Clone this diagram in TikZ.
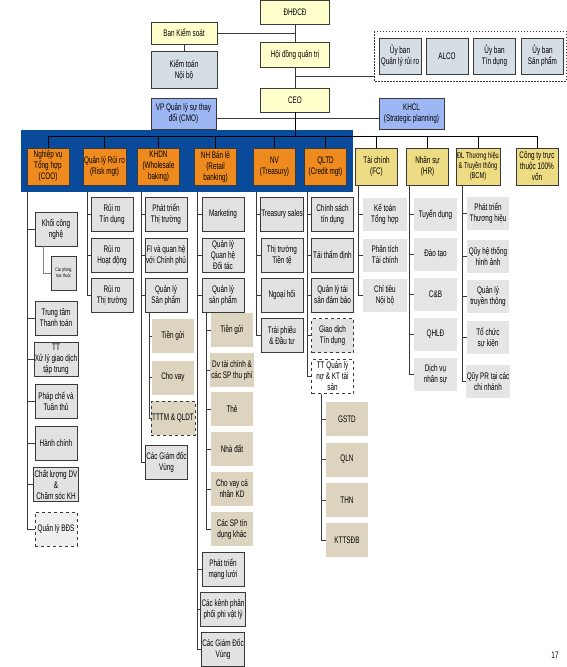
\documentclass[tikz,border=0pt]{standalone}
\usepackage{fontspec}
\setmainfont[FakeStretch=0.67]{Liberation Sans}

\definecolor{paleyellow}{HTML}{FFFFCC}
\definecolor{greyblue}{HTML}{D5DDE5}
\definecolor{lightblue}{HTML}{9DB7F4}
\definecolor{bandblue}{HTML}{0A4A9A}
\definecolor{deptorange}{HTML}{EF8B1E}
\definecolor{deptyellow}{HTML}{EEDC84}
\definecolor{unitgrey}{HTML}{E2E2E2}
\definecolor{softgrey}{HTML}{E5E5E5}
\definecolor{prodtan}{HTML}{DCD4BF}
\definecolor{linegrey}{HTML}{3A3A3A}

\tikzset{
  box/.style={align=center, inner sep=1pt, minimum width=42pt, minimum height=34pt,
    font=\fontsize{9.5}{11}\selectfont},
  topbox/.style={box, draw=linegrey, line width=0.6pt, fill=paleyellow},
  greybox/.style={box, draw=linegrey, line width=0.6pt, fill=greyblue},
  bluebox/.style={box, draw=linegrey, line width=0.6pt, fill=lightblue},
  deptbox/.style={box, draw=linegrey, line width=0.6pt, fill=deptorange, minimum height=37pt},
  supportbox/.style={box, draw=linegrey, line width=0.6pt, fill=deptyellow, minimum height=37pt},
  unitbox/.style={box, draw=linegrey, line width=0.8pt, fill=unitgrey},
  softbox/.style={box, fill=softgrey, minimum width=44pt, minimum height=33pt},
  tanbox/.style={box, fill=prodtan},
  conn/.style={draw=linegrey, line width=0.8pt},
}

\begin{document}
\begin{tikzpicture}[x=1pt,y=-1pt]
  \useasboundingbox (0,0) rectangle (567,667);

  % Board level
  \node[topbox, minimum width=69pt, minimum height=24pt] (dhcd) at (295,12) {ĐHĐCĐ};
  \node[topbox, minimum width=66pt, minimum height=22pt] (bks) at (184,33) {Ban Kiểm soát};
  \node[greybox, minimum width=66pt, minimum height=37pt] (ktnb) at (184,69.5) {Kiểm toán\\Nội bộ};
  \node[topbox, minimum width=69pt, minimum height=25pt] (hdqt) at (295,54.5) {Hội đồng quản trị};
  \node[topbox, minimum width=69pt, minimum height=24pt] (ceo) at (295,100) {CEO};

  % Committees
  \draw[linegrey, line width=0.7pt, dash pattern=on 1.5pt off 1.5pt] (374,31) rectangle (566,81);
  \node[greybox, minimum height=36pt] (ubrr) at (400,56) {Ủy ban\\Quản lý rủi ro};
  \node[greybox, minimum height=36pt] (alco) at (447,56) {ALCO};
  \node[greybox, minimum height=36pt] (ubtd) at (494.5,56) {Ủy ban\\Tín dụng};
  \node[greybox, minimum height=36pt] (ubsp) at (542.5,56) {Ủy ban\\Sản phẩm};

  % Staff offices
  \node[bluebox, minimum width=65pt, minimum height=31pt] (cmo) at (183.5,113.5) {VP Quản lý sự thay\\đổi (CMO)};
  \node[bluebox, minimum width=65pt, minimum height=31pt] (khcl) at (411.5,113.5) {KHCL\\(Strategic planning)};

  % Business divisions band
  \fill[bandblue] (21,130) rectangle (353,192);
  \node[deptbox] (coo) at (48,166.5) {Nghiệp vụ\\Tổng hợp\\(COO)};
  \node[deptbox] (risk) at (104.5,166.5) {Quản lý Rủi ro\\(Risk mgt)};
  \node[deptbox] (khdn) at (158.5,166.5) {KHDN\\(Wholesale\\baking)};
  \node[deptbox] (retail) at (215.5,166.5) {NH Bán lẻ\\(Retail\\banking)};
  \node[deptbox] (nv) at (274.5,166.5) {NV\\(Treasury)};
  \node[deptbox] (qltd) at (325.5,166.5) {QLTD\\(Credit mgt)};

  % Support divisions
  \node[supportbox] (fc) at (376.5,166.5) {Tài chính\\(FC)};
  \node[supportbox] (hr) at (427.5,166.5) {Nhân sự\\(HR)};
  \node[supportbox, font=\fontsize{8.5}{10}\selectfont] (bcm) at (478,166.5) {ĐL Thương hiệu\\\& Truyền thông\\(BCM)};
  \node[supportbox] (cty) at (537,166.5) {Công ty trực\\thuộc 100\%\\vốn};

  % COO units
  \node[unitbox] (kcn) at (56,229) {Khối công\\nghệ};
  \node[unitbox, minimum width=25pt, font=\fontsize{5}{6.5}\selectfont] (cptt) at (63.5,273) {Các phòng\\trực thuộc};
  \node[unitbox] (tttt) at (56,318) {Trung tâm\\Thanh toán};
  \node[unitbox] (xlgd) at (56,359.5) {TT\\Xử lý giao dịch\\tập trung};
  \node[unitbox] (pcht) at (56,401) {Pháp chế và\\Tuân thủ};
  \node[unitbox] (hc) at (56,443) {Hành chính};
  \node[unitbox] (cldv) at (56,484.5) {Chất lượng DV\\\&\\Chăm sóc KH};
  \node[unitbox, fill=softgrey!60, dashed] (bds) at (56,529) {Quản lý BĐS};

  % Risk units
  \node[unitbox] (rrtd) at (112,214.5) {Rủi ro\\Tín dụng};
  \node[unitbox] (rrhd) at (112,255) {Rủi ro\\Hoạt động};
  \node[unitbox] (rrtt) at (112,295) {Rủi ro\\Thị trường};

  % Wholesale units
  \node[unitbox] (pttt) at (166,214.5) {Phát triển\\Thị trường};
  \node[unitbox] (fi) at (166,255) {FI và quan hệ\\với Chính phủ};
  \node[unitbox] (qlsp) at (166,295) {Quản lý\\Sản phẩm};
  \node[tanbox] (tgdn) at (173,336) {Tiền gửi};
  \node[tanbox] (cvdn) at (173,377.5) {Cho vay};
  \node[tanbox, draw=linegrey, dashed, line width=0.7pt] (tttm) at (173,418) {TTTM \& QLDT};
  \node[unitbox] (gdvdn) at (166.5,462.5) {Các Giám đốc\\Vùng};

  % Retail units
  \node[unitbox] (mkt) at (223,214.5) {Marketing};
  \node[unitbox] (qlqh) at (223,255) {Quản lý\\Quan hệ\\Đối tác};
  \node[unitbox] (qlspbl) at (223,295) {Quản lý\\sản phẩm};
  \node[tanbox] (tgbl) at (232,330) {Tiền gửi};
  \node[tanbox] (dvtc) at (232,370) {Dv tài chính \&\\các SP thu phí};
  \node[tanbox] (the) at (232,409) {Thẻ};
  \node[tanbox] (nhadat) at (232,449) {Nhà đất};
  \node[tanbox] (cvcn) at (232,489) {Cho vay cá\\nhân KD};
  \node[tanbox] (spk) at (232,529) {Các SP tín\\dụng khác};
  \node[unitbox] (ptml) at (223,569) {Phát triển\\mạng lưới};
  \node[unitbox] (kpp) at (223,609) {Các kênh phân\\phối phi vật lý};
  \node[unitbox] (gdvbl) at (223,649.5) {Các Giám Đốc\\Vùng};

  % Treasury units
  \node[unitbox] (tsales) at (282,214.5) {Treasury sales};
  \node[unitbox] (tttiente) at (282,255) {Thị trường\\Tiền tệ};
  \node[unitbox] (nh) at (282,295) {Ngoại hối};
  \node[unitbox] (tpdt) at (282,335.5) {Trái phiếu\\\& Đầu tư};

  % Credit units
  \node[unitbox] (cstd) at (332.5,214.5) {Chính sách\\tín dụng};
  \node[unitbox] (ttd) at (332.5,255) {Tái thẩm định};
  \node[unitbox] (qltsdb) at (332.5,295) {Quản lý tài\\sản đảm bảo};
  \node[unitbox, dashed] (gdtd) at (332.5,335.5) {Giao dịch\\Tín dụng};
  \node[unitbox, fill=white, dashed] (ttqln) at (332.5,376.5) {TT Quản lý\\nợ \& KT tài\\sản};
  \node[tanbox] (gstd) at (347,419) {GSTD};
  \node[tanbox] (qln) at (347,459.5) {QLN};
  \node[tanbox] (thn) at (347,500) {THN};
  \node[tanbox] (kttsdb) at (347,540) {KTTSĐB};

  % Finance, HR and brand units
  \node[softbox] (ktth) at (385,214.5) {Kế toán\\Tổng hợp};
  \node[softbox] (pttc) at (385,255) {Phân tích\\Tài chính};
  \node[softbox] (ctnb) at (385,295) {Chỉ tiêu\\Nội bộ};
  \node[softbox, minimum width=43pt] (tdung) at (435.5,214.5) {Tuyển dụng};
  \node[softbox, minimum width=43pt] (dtao) at (435.5,254) {Đào tạo};
  \node[softbox, minimum width=43pt] (cb) at (435.5,294.5) {C\&B};
  \node[softbox, minimum width=43pt] (qhld) at (435.5,334.5) {QHLĐ};
  \node[softbox, minimum width=43pt] (dvns) at (435.5,374.5) {Dịch vụ\\nhân sự};
  \node[softbox, minimum width=42pt] (ptth) at (488,213) {Phát triển\\Thương hiệu};
  \node[softbox, minimum width=42pt] (qhtha) at (488,256) {Qũy hệ thống\\hình ảnh};
  \node[softbox, minimum width=42pt] (qltt) at (488,296.5) {Quản lý\\truyền thông};
  \node[softbox, minimum width=42pt] (tcsk) at (488,337.5) {Tổ chức\\sự kiện};
  \node[softbox, minimum width=42pt] (qpr) at (488,381.5) {Qũy PR tại các\\chi nhánh};

  % Upper connectors
  \draw[conn] (dhcd.south) -- (hdqt.north);
  \draw[conn] (hdqt.south) -- (ceo.north);
  \draw[conn] (bks.east) -- (bks.east -| dhcd.south);
  \draw[conn] (bks.south) -- (ktnb.north);
  \coordinate (cmtin) at (374,76);
  \draw[conn] (cmtin -| hdqt.south) -- (cmtin);
  \coordinate (staffbus) at (295,118);
  \draw[conn] (cmo.east |- staffbus) -- (khcl.west |- staffbus);

  % Division bus
  \coordinate (busL) at (49,136);
  \coordinate (busR) at (538,136);
  \draw[conn, draw=black] (busL) -- (busR);
  \draw[conn, draw=black] (ceo.south) -- (ceo.south |- busL);
  \foreach \d in {coo,risk,khdn,retail,nv,qltd,fc,hr,bcm,cty}
    \draw[conn, draw=black] (\d.north |- busL) -- (\d.north);

  % Column spines
  \coordinate (cooS) at (27,192);
  \draw[conn] (cooS) |- (bds.west);
  \foreach \u in {kcn,tttt,xlgd,pcht,hc,cldv}
    \draw[conn] (cooS |- \u.west) -- (\u.west);
  \draw[conn, draw=gray] ([xshift=-13pt]kcn.south) |- (cptt.west);

  \coordinate (riskS) at (87,192);
  \draw[conn] (riskS) |- (rrtt.west);
  \foreach \u in {rrtd,rrhd}
    \draw[conn] (riskS |- \u.west) -- (\u.west);

  \coordinate (khdnS) at (141,192);
  \draw[conn] (khdnS) |- (gdvdn.west);
  \foreach \u in {pttt,fi,qlsp}
    \draw[conn] (khdnS |- \u.west) -- (\u.west);
  \coordinate (spdnS) at ([xshift=-17pt]qlsp.south);
  \draw[conn] (spdnS) |- (tttm.west);
  \foreach \u in {tgdn,cvdn}
    \draw[conn] (spdnS |- \u.west) -- (\u.west);

  \coordinate (retailS) at (197,192);
  \draw[conn] (retailS) |- (gdvbl.west);
  \foreach \u in {mkt,qlqh,qlspbl,ptml,kpp}
    \draw[conn] (retailS |- \u.west) -- (\u.west);
  \coordinate (spblS) at ([xshift=-17pt]qlspbl.south);
  \draw[conn] (spblS) |- (spk.west);
  \foreach \u in {tgbl,dvtc,the,nhadat,cvcn}
    \draw[conn] (spblS |- \u.west) -- (\u.west);

  \coordinate (nvS) at (256,192);
  \draw[conn] (nvS) |- (tpdt.west);
  \foreach \u in {tsales,tttiente,nh}
    \draw[conn] (nvS |- \u.west) -- (\u.west);

  \coordinate (qltdS) at (307,192);
  \draw[conn] (qltdS) |- (ttqln.west);
  \foreach \u in {cstd,ttd,qltsdb,gdtd}
    \draw[conn] (qltdS |- \u.west) -- (\u.west);
  \coordinate (qlnS) at ([xshift=-11.5pt]ttqln.south);
  \draw[conn] (qlnS) |- (kttsdb.west);
  \foreach \u in {gstd,qln,thn}
    \draw[conn] (qlnS |- \u.west) -- (\u.west);

  \coordinate (fcS) at ([xshift=-18.5pt]fc.south);
  \draw[conn] (fcS) |- (ctnb.west);
  \foreach \u in {ktth,pttc}
    \draw[conn] (fcS |- \u.west) -- (\u.west);

  \coordinate (hrS) at ([xshift=-18.5pt]hr.south);
  \draw[conn] (hrS) |- (dvns.west);
  \foreach \u in {tdung,dtao,cb,qhld}
    \draw[conn] (hrS |- \u.west) -- (\u.west);

  \coordinate (bcmS) at ([xshift=-16pt]bcm.south);
  \draw[conn] (bcmS) |- (qpr.west);
  \foreach \u in {ptth,qhtha,qltt,tcsk}
    \draw[conn] (bcmS |- \u.west) -- (\u.west);

  % Page number
  \node[font=\fontsize{9.5}{11}\selectfont] (pageno) at (555,655) {17};
\end{tikzpicture}
\end{document}
